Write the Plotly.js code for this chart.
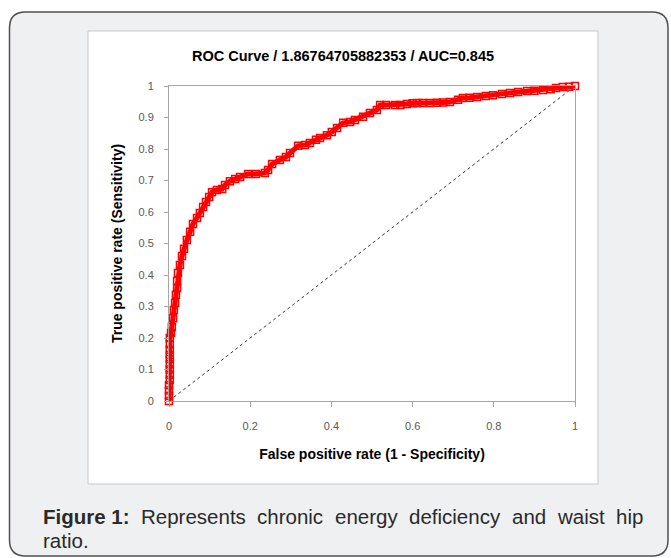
<!DOCTYPE html>
<html>
<head>
<meta charset="utf-8">
<script src="https://cdn.plot.ly/plotly-3.0.1.min.js"></script>
<style>html,body{margin:0;padding:0;background:#fff;}#chart{width:671px;height:558px;}</style>
</head>
<body>
<div id="chart"></div>
<script>
// ROC curve readings (false positive rate, true positive rate)
const fpr = [0, 0, 0, 0, 0.002, 0.002, 0.002, 0.002, 0.002, 0.002, 0.002, 0.002, 0.002, 0.005, 0.007, 0.01, 0.012, 0.015, 0.017, 0.02, 0.02, 0.022, 0.027, 0.032, 0.037, 0.044, 0.052, 0.059, 0.069, 0.076, 0.084, 0.091, 0.099, 0.106, 0.118, 0.131, 0.138, 0.15, 0.163, 0.175, 0.195, 0.214, 0.236, 0.244, 0.254, 0.273, 0.288, 0.298, 0.318, 0.335, 0.347, 0.362, 0.372, 0.389, 0.401, 0.414, 0.429, 0.446, 0.458, 0.478, 0.495, 0.512, 0.52, 0.535, 0.557, 0.57, 0.586, 0.6, 0.611, 0.625, 0.643, 0.66, 0.675, 0.692, 0.712, 0.724, 0.74, 0.759, 0.78, 0.798, 0.82, 0.84, 0.86, 0.882, 0.9, 0.921, 0.94, 0.953, 0.97, 0.985, 1.0];
const tpr = [0, 0.017, 0.033, 0.05, 0.067, 0.083, 0.1, 0.117, 0.133, 0.146, 0.163, 0.18, 0.2, 0.216, 0.235, 0.263, 0.289, 0.311, 0.337, 0.359, 0.381, 0.406, 0.432, 0.46, 0.483, 0.511, 0.537, 0.562, 0.581, 0.597, 0.616, 0.632, 0.648, 0.663, 0.67, 0.673, 0.686, 0.698, 0.705, 0.711, 0.721, 0.721, 0.724, 0.733, 0.752, 0.765, 0.775, 0.787, 0.81, 0.813, 0.819, 0.829, 0.835, 0.844, 0.854, 0.867, 0.883, 0.886, 0.892, 0.902, 0.914, 0.924, 0.94, 0.94, 0.94, 0.94, 0.943, 0.945, 0.946, 0.946, 0.946, 0.947, 0.948, 0.949, 0.956, 0.962, 0.963, 0.965, 0.968, 0.971, 0.975, 0.978, 0.981, 0.984, 0.985, 0.987, 0.99, 0.994, 0.997, 0.998, 1.0];
const diagX = [0, 1];
const diagY = [0, 1];
const xTicks = [0, 0.2, 0.4, 0.6, 0.8, 1];
const xTickText = ["0", "0.2", "0.4", "0.6", "0.8", "1"];
const yTicks = [0, 0.1, 0.2, 0.3, 0.4, 0.5, 0.6, 0.7, 0.8, 0.9, 1];
const yTickText = ["0", "0.1", "0.2", "0.3", "0.4", "0.5", "0.6", "0.7", "0.8", "0.9", "1"];
const chartTitle = "ROC Curve / 1.86764705882353 / AUC=0.845";
const xTitle = "False positive rate (1 - Specificity)";
const yTitle = "True positive rate (Sensitivity)";
const captionBold = "Figure 1:";
const captionLine1 = "Represents chronic energy deficiency and waist hip";
const captionLine2 = "ratio.";

// page geometry (pixels)
const W = 671, H = 558;
const L = 169, R = 575, T = 86, B = 401;
const pw = R - L, ph = B - T;
const px = v => (v - L) / pw;
const py = v => (B - v) / ph;

function roundRect(x0, y0, x1, y1, r) {
  const X = v => px(v).toFixed(5), Y = v => py(v).toFixed(5);
  return `M${X(x0 + r)},${Y(y0)} L${X(x1 - r)},${Y(y0)} Q${X(x1)},${Y(y0)} ${X(x1)},${Y(y0 + r)} ` +
    `L${X(x1)},${Y(y1 - r)} Q${X(x1)},${Y(y1)} ${X(x1 - r)},${Y(y1)} L${X(x0 + r)},${Y(y1)} ` +
    `Q${X(x0)},${Y(y1)} ${X(x0)},${Y(y1 - r)} L${X(x0)},${Y(y0 + r)} Q${X(x0)},${Y(y0)} ${X(x0 + r)},${Y(y0)} Z`;
}

// justified caption line: measure words, spread across the line width
const capFamily = 'Liberation Sans, Arial, sans-serif';
const capSize = 20.5;
const capColor = '#2a2a2a';
const capLeft = 43, capRight = 643;
const ctx = document.createElement('canvas').getContext('2d');
function measure(t, bold) {
  ctx.font = (bold ? 'bold ' : '') + capSize + 'px "Liberation Sans", Arial, sans-serif';
  return ctx.measureText(t).width;
}
const words = [{t: captionBold, b: true}].concat(captionLine1.split(' ').map(w => ({t: w, b: false})));
const widths = words.map(w => measure(w.t, w.b));
const total = widths.reduce((a, c) => a + c, 0);
const gap = (capRight - capLeft - total) / (words.length - 1);
const captionAnns = [];
let cx = capLeft;
words.forEach((w, i) => {
  captionAnns.push({
    xref: 'paper', yref: 'paper', x: px(cx - 1), y: py(516), xanchor: 'left', yanchor: 'middle',
    text: w.b ? '<b>' + w.t + '</b>' : w.t, showarrow: false, borderpad: 0,
    font: {family: capFamily, size: capSize, color: capColor}
  });
  cx += widths[i] + gap;
});
captionAnns.push({
  xref: 'paper', yref: 'paper', x: px(capLeft - 1), y: py(540), xanchor: 'left', yanchor: 'middle',
  text: captionLine2, showarrow: false, borderpad: 0,
  font: {family: capFamily, size: capSize, color: capColor}
});

const traces = [
  {
    x: diagX, y: diagY, type: 'scatter', mode: 'lines',
    line: {color: '#3a3a3a', width: 1, dash: 'dot'},
    hoverinfo: 'skip', showlegend: false
  },
  {
    x: fpr, y: tpr, type: 'scatter', mode: 'lines+markers',
    line: {color: '#ff0000', width: 5},
    marker: {symbol: 'square-open', size: 7, color: '#ff0000', line: {color: '#ff0000', width: 1.5}},
    cliponaxis: false, showlegend: false
  }
];

const tickFont = {family: 'Liberation Sans, Arial, sans-serif', size: 11, color: '#595959'};
const titleFont = {family: 'Liberation Sans, Arial, sans-serif', size: 14, color: '#000'};

const layout = {
  width: W, height: H,
  margin: {l: L, r: W - R, t: T, b: H - B, pad: 0},
  paper_bgcolor: '#ffffff',
  plot_bgcolor: 'rgba(0,0,0,0)',
  showlegend: false,
  title: {
    text: '<b>' + chartTitle + '</b>',
    font: {family: 'Liberation Sans, Arial, sans-serif', size: 14.5, color: '#000'},
    x: px(343), xanchor: 'center', xref: 'paper',
    y: 1 - 56 / H, yanchor: 'middle', yref: 'container'
  },
  xaxis: {
    range: [0, 1], tickvals: xTicks, ticktext: xTickText,
    showgrid: false, zeroline: false,
    showline: true, mirror: true, linecolor: '#a6a6a6', linewidth: 1,
    ticks: 'outside', ticklen: 5, tickcolor: '#a6a6a6', tickwidth: 1,
    ticklabelstandoff: 10,
    tickfont: tickFont,
    title: {text: '<b>' + xTitle + '</b>', font: titleFont, standoff: 17},
    fixedrange: true
  },
  yaxis: {
    range: [0, 1], tickvals: yTicks, ticktext: yTickText,
    showgrid: false, zeroline: false,
    showline: true, mirror: true, linecolor: '#a6a6a6', linewidth: 1,
    ticks: 'outside', ticklen: 4, tickcolor: '#a6a6a6', tickwidth: 1,
    ticklabelstandoff: 8,
    tickfont: tickFont,
    title: {text: '<b>' + yTitle + '</b>', font: titleFont, standoff: 12},
    fixedrange: true
  },
  shapes: [
    {type: 'path', xref: 'paper', yref: 'paper', layer: 'below',
     path: roundRect(9.5, 12, 668, 556, 16),
     fillcolor: '#eff0f2', line: {color: '#505050', width: 1.5}},
    {type: 'rect', xref: 'paper', yref: 'paper', layer: 'below',
     x0: px(88), x1: px(598), y0: py(31), y1: py(484),
     fillcolor: '#ffffff', line: {color: '#c8c8c8', width: 1}}
  ],
  annotations: captionAnns
};

Plotly.newPlot('chart', traces, layout, {displayModeBar: false, staticPlot: true});
</script>
</body>
</html>
